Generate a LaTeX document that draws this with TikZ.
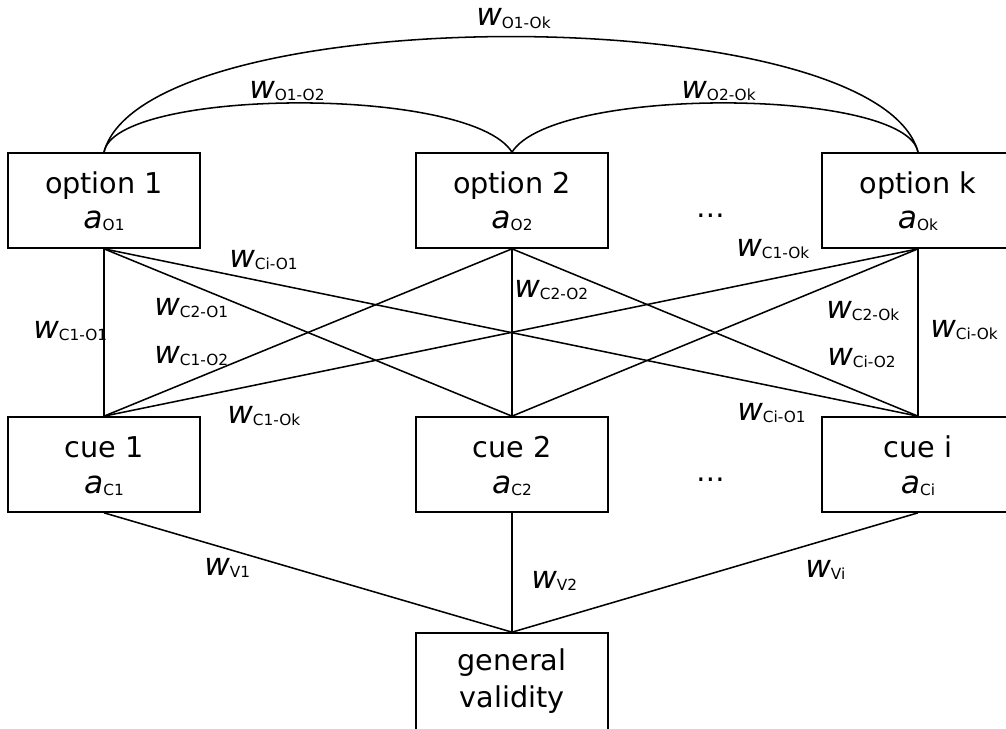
\documentclass[tikz,border=0pt]{standalone}
\usepackage{fontspec}
\setmainfont{DejaVu Sans}
\newcommand\sbx[1]{\raisebox{-1.8pt}{\fontsize{11.5}{13}\selectfont #1}}
\newcommand\wlab[1]{\textit{w}\sbx{#1}}
\newcommand\alab[1]{{\fontsize{23.5}{26}\selectfont\textit{a}}\sbx{#1}}
\begin{document}
\begin{tikzpicture}[x=0.75pt,y=-0.75pt,
  box/.style={draw,line width=1.25pt,minimum width=144pt,minimum height=71.25pt,inner sep=0pt},
  gbox/.style={draw,line width=1.25pt,minimum width=144pt,minimum height=73.5pt,inner sep=0pt},
  txt/.style={anchor=base,inner sep=0pt,font=\fontsize{21.5}{24}\selectfont},
  lab/.style={anchor=base west,inner sep=0pt,font=\fontsize{23.5}{26}\selectfont},
  conn/.style={line width=1.15pt}]
\useasboundingbox (0,0) rectangle (1006,728);
% boxes
\node[box] (o1) at (104,200.5) {};
\node[box] (o2) at (512,200.5) {};
\node[box] (ok) at (918,200.5) {};
\node[box] (c1) at (104,464.5) {};
\node[box] (c2) at (512,464.5) {};
\node[box] (ci) at (918,464.5) {};
\node[gbox] (gv) at (512,682) {};
% box texts
\node[txt] (o1t) at (104,193) {option 1};
\node[txt] (o1a) at (104,228) {\alab{O1}};
\node[txt] (o2t) at (512,193) {option 2};
\node[txt] (o2a) at (512,228) {\alab{O2}};
\node[txt] (okt) at (918,193) {option k};
\node[txt] (oka) at (918,228) {\alab{Ok}};
\node[txt] (c1t) at (104,457) {cue 1};
\node[txt] (c1a) at (104,493) {\alab{C1}};
\node[txt] (c2t) at (512,457) {cue 2};
\node[txt] (c2a) at (512,493) {\alab{C2}};
\node[txt] (cit) at (918,457) {cue i};
\node[txt] (cia) at (918,493) {\alab{Ci}};
\node[txt] (gvt) at (512,670) {general};
\node[txt] (gvv) at (512,707) {validity};
\node[txt] (dots1) at (711,217) {…};
\node[txt] (dots2) at (711,481) {…};
% connectors
\foreach \o in {o1,o2,ok}
  \foreach \c in {c1,c2,ci}
    \draw[conn] (\o.south) -- (\c.north);
\foreach \c in {c1,c2,ci}
  \draw[conn] (\c.south) -- (gv.north);
\draw[conn] (o1.north) .. controls (115,88) and (470,85) .. (o2.north);
\draw[conn] (o2.north) .. controls (554,85) and (907,88) .. (ok.north);
\draw[conn] (o1.north) .. controls (145,-2) and (877,-2) .. (ok.north);
% labels
\node[lab] (l1) at (476,26) {\wlab{O1-Ok}};
\node[lab] (l2) at (249,98) {\wlab{O1-O2}};
\node[lab] (l3) at (681,98) {\wlab{O2-Ok}};
\node[lab] (l4) at (229,267) {\wlab{Ci-O1}};
\node[lab] (l5) at (154,315) {\wlab{C2-O1}};
\node[lab] (l6) at (33,338) {\wlab{C1-O1}};
\node[lab] (l7) at (154,363) {\wlab{C1-O2}};
\node[lab] (l8) at (227,423) {\wlab{C1-Ok}};
\node[lab] (l9) at (737,420) {\wlab{Ci-O1}};
\node[lab] (l10) at (736,256) {\wlab{C1-Ok}};
\node[lab] (l11) at (514,297) {\wlab{C2-O2}};
\node[lab] (l12) at (826,318) {\wlab{C2-Ok}};
\node[lab] (l13) at (827,365) {\wlab{Ci-O2}};
\node[lab] (l14) at (930,337) {\wlab{Ci-Ok}};
\node[lab] (l15) at (204,575) {\wlab{V1}};
\node[lab] (l16) at (531,588) {\wlab{V2}};
\node[lab] (l17) at (805,577) {\wlab{Vi}};
\end{tikzpicture}
\end{document}
